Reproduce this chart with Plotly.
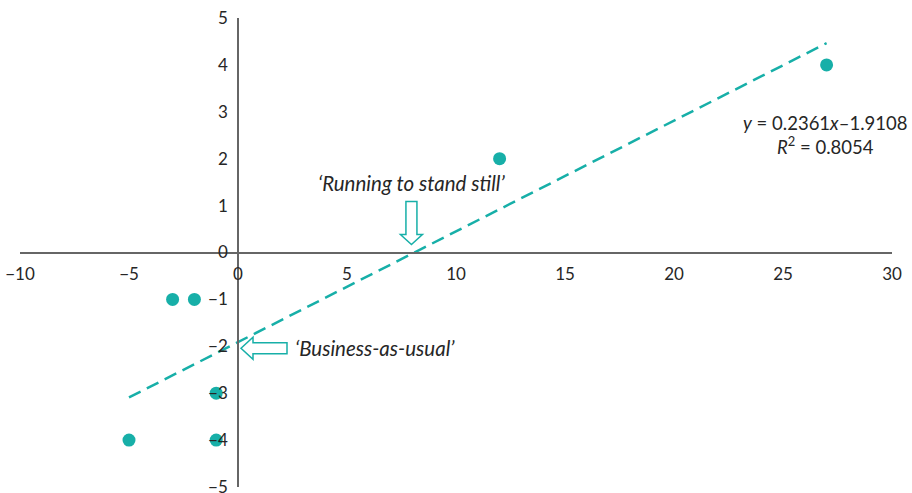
import plotly.graph_objects as go
import numpy as np

# Data
x_vals = [27, 12, -3, -2, -1, -1, -5]
y_vals = [4, 2, -1, -1, -3, -4, -4]
slope = 0.2361
intercept = -1.9108
r2 = 0.8054
x_ticks = [-10, -5, 0, 5, 10, 15, 20, 25, 30]
y_ticks = [-5, -4, -3, -2, -1, 0, 1, 2, 3, 4, 5]

TEAL = "#17AFA8"
AXIS = "#666666"
TXT = "#262626"
FONT = "Lato"

fig = go.Figure()

xl = np.array([min(x_vals), max(x_vals)])
fig.add_trace(go.Scatter(x=xl, y=slope * xl + intercept, mode="lines",
                         line=dict(color=TEAL, width=2.5, dash="13px,7px"),
                         hoverinfo="skip", showlegend=False))
fig.add_trace(go.Scatter(x=x_vals, y=y_vals, mode="markers",
                         marker=dict(color=TEAL, size=13), showlegend=False))

fig.update_layout(
    width=912, height=493,
    margin=dict(l=20, r=20, t=18, b=6),
    paper_bgcolor="white", plot_bgcolor="white",
    font=dict(family=FONT, size=17, color=TXT),
    xaxis=dict(range=[-10, 30], tickvals=x_ticks,
               ticktext=[str(v).replace("-", "\u2212") for v in x_ticks],
               showgrid=False, zeroline=False, showline=True, linecolor=AXIS, linewidth=1.6,
               anchor="free", position=0.5, ticks="", ticklabelstandoff=6, automargin=False,
               ticklabeloverflow="allow"),
    yaxis=dict(range=[-5, 5], tickvals=y_ticks,
               ticktext=[str(v).replace("-", "\u2212") for v in y_ticks],
               showgrid=False, zeroline=False, showline=True, linecolor=AXIS, linewidth=1.6,
               anchor="free", position=0.25, ticks="", ticklabelstandoff=6, automargin=False,
               ticklabeloverflow="allow"),
)

# Hollow arrows
x_int = -intercept / slope
down_path = "M -3 8 L -14 18 L -8.5 18 L -8.5 51 L 2.5 51 L 2.5 18 L 8 18 Z"
fig.add_shape(type="path", xref="x", yref="y", xsizemode="pixel", ysizemode="pixel",
              xanchor=x_int, yanchor=0, path=down_path,
              line=dict(color=TEAL, width=1.5), fillcolor="white")
left_path = "M 3 -2 L 15 9 L 15 3.5 L 49 3.5 L 49 -7.5 L 15 -7.5 L 15 -13 Z"
fig.add_shape(type="path", xref="x", yref="y", xsizemode="pixel", ysizemode="pixel",
              xanchor=0, yanchor=-2, path=left_path,
              line=dict(color=TEAL, width=1.5), fillcolor="white")

fig.add_annotation(x=x_int, y=0, xref="x", yref="y", xshift=-3, yshift=70,
                   text="<i>\u2018Running to stand still\u2019</i>", showarrow=False,
                   font=dict(size=20.5, color=TXT))
fig.add_annotation(x=0, y=-2, xref="x", yref="y", xshift=55, yshift=-2, xanchor="left",
                   text="<i>\u2018Business-as-usual\u2019</i>", showarrow=False,
                   font=dict(size=20.5, color=TXT))
fig.add_annotation(x=27, y=2.51, xref="x", yref="y", xshift=-2,
                   text="<i>y</i> = 0.2361<i>x</i>\u20131.9108<br><i>R</i><sup>2</sup> = %.4f" % r2,
                   showarrow=False, align="center", font=dict(size=18.5, color=TXT))

fig.write_html("out.html", config={"displayModeBar": False},
               post_script="document.body.style.margin='0';document.body.style.overflow='hidden';")
